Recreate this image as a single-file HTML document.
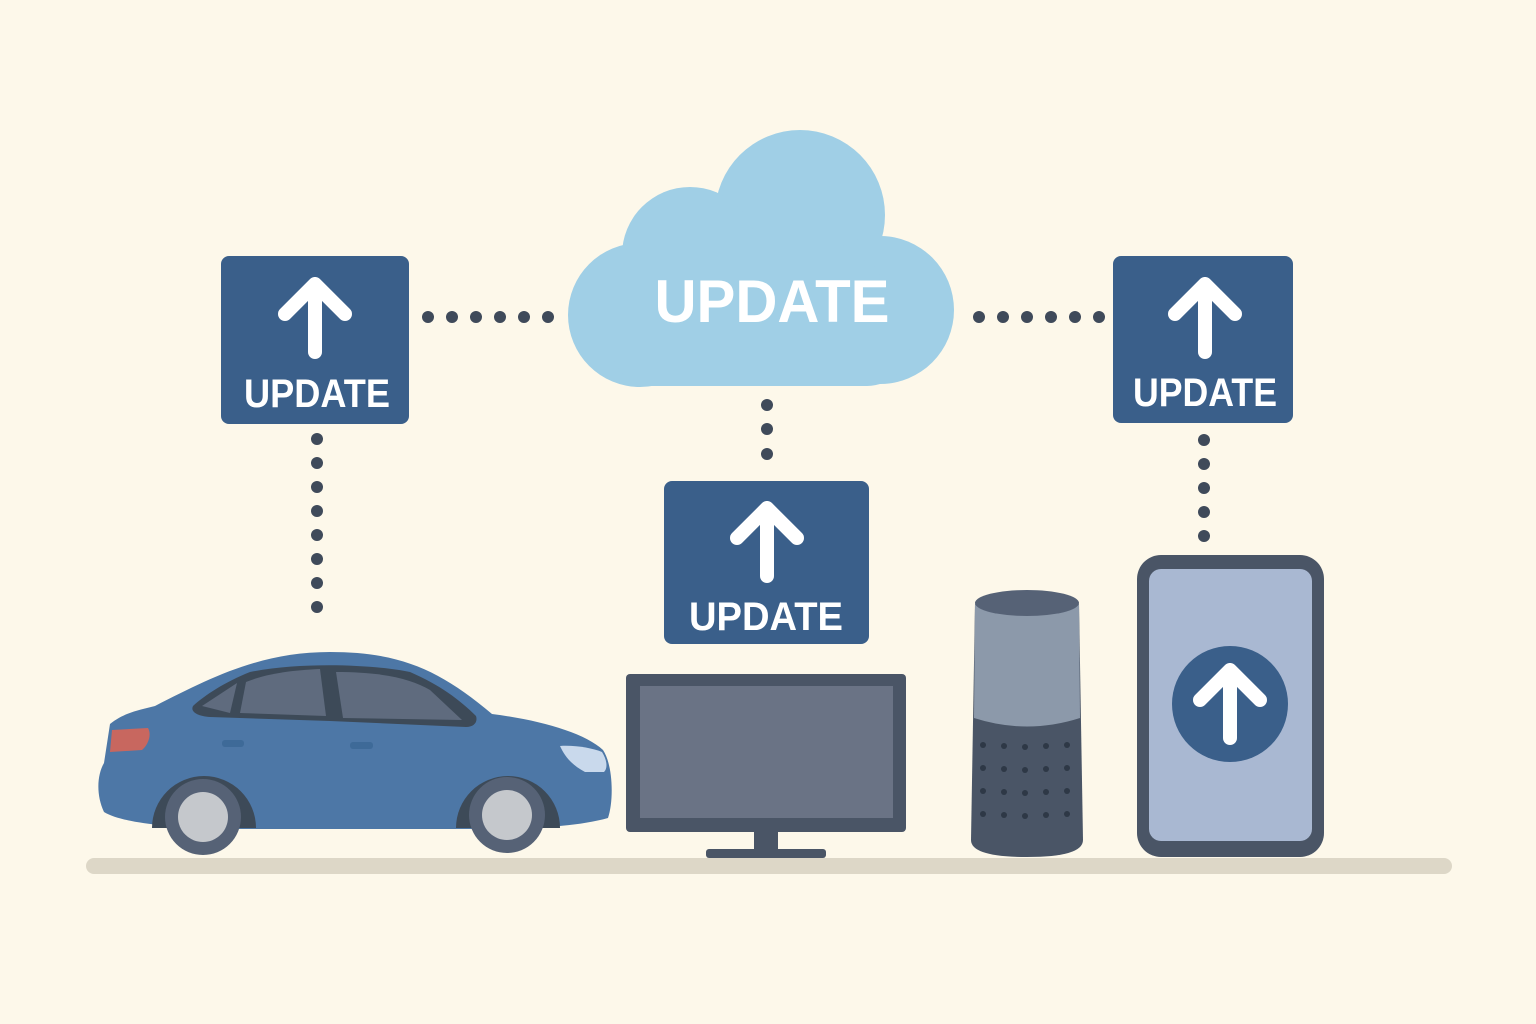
<!DOCTYPE html>
<html><head><meta charset="utf-8"><style>
html,body{margin:0;padding:0;background:#fdf8ea;}
svg{display:block}
text{font-family:"Liberation Sans",sans-serif;font-weight:bold;fill:#fff;text-anchor:middle}
</style></head><body>
<svg width="1536" height="1024" viewBox="0 0 1536 1024" xmlns="http://www.w3.org/2000/svg">
<rect width="1536" height="1024" fill="#fdf8ea"/>
<rect x="86" y="858" width="1366" height="16" rx="8" fill="#ddd7c7"/>
<g fill="#3f4a5a">
<circle cx="428" cy="317" r="6"/><circle cx="452" cy="317" r="6"/><circle cx="476" cy="317" r="6"/><circle cx="500" cy="317" r="6"/><circle cx="524" cy="317" r="6"/><circle cx="548" cy="317" r="6"/>
<circle cx="979" cy="317" r="6"/><circle cx="1003" cy="317" r="6"/><circle cx="1027" cy="317" r="6"/><circle cx="1051" cy="317" r="6"/><circle cx="1075" cy="317" r="6"/><circle cx="1099" cy="317" r="6"/>
<circle cx="317" cy="439" r="6"/><circle cx="317" cy="463" r="6"/><circle cx="317" cy="487" r="6"/><circle cx="317" cy="511" r="6"/><circle cx="317" cy="535" r="6"/><circle cx="317" cy="559" r="6"/><circle cx="317" cy="583" r="6"/><circle cx="317" cy="607" r="6"/>
<circle cx="767" cy="405" r="6"/><circle cx="767" cy="429" r="6"/><circle cx="767" cy="454" r="6"/>
<circle cx="1204" cy="440" r="6"/><circle cx="1204" cy="464" r="6"/><circle cx="1204" cy="488" r="6"/><circle cx="1204" cy="512" r="6"/><circle cx="1204" cy="536" r="6"/>
</g>
<g fill="#a0cfe6">
<circle cx="800" cy="215" r="85"/>
<circle cx="690" cy="255" r="68"/>
<circle cx="880" cy="310" r="74"/>
<circle cx="640" cy="315" r="72"/>
<rect x="640" y="260" width="240" height="126" rx="20"/>
<rect x="610" y="300" width="300" height="86" rx="43"/>
</g>
<text x="772" y="322" font-size="60" textLength="235" lengthAdjust="spacingAndGlyphs">UPDATE</text>
<defs>
<g id="arr"><path d="M0,-34 L0,34 M-30,-4 L0,-34 L30,-4" stroke="#fff" stroke-width="14" stroke-linecap="round" stroke-linejoin="round" fill="none"/></g>
</defs>
<rect x="221" y="256" width="188" height="168" rx="8" fill="#3a5f8a"/>
<use href="#arr" x="315" y="318"/>
<text x="317" y="407" font-size="40" textLength="146" lengthAdjust="spacingAndGlyphs">UPDATE</text>
<rect x="1113" y="256" width="180" height="167" rx="8" fill="#3a5f8a"/>
<use href="#arr" x="1205" y="318"/>
<text x="1205" y="406" font-size="40" textLength="144" lengthAdjust="spacingAndGlyphs">UPDATE</text>
<rect x="664" y="481" width="205" height="163" rx="8" fill="#3a5f8a"/>
<use href="#arr" x="767" y="542"/>
<text x="766" y="630" font-size="40" textLength="154" lengthAdjust="spacingAndGlyphs">UPDATE</text>
<rect x="626" y="674" width="280" height="158" rx="4" fill="#4a5566"/>
<rect x="640" y="686" width="253" height="132" fill="#6a7385"/>
<rect x="754" y="830" width="24" height="22" fill="#4a5566"/>
<rect x="706" y="849" width="120" height="9" rx="3" fill="#4a5566"/>
<path d="M975,604 L971,840 Q971,857 1027,857 Q1083,857 1083,840 L1079,604 Z" fill="#4a5566"/>
<path d="M975,604 L974,718 Q1027,735 1080,718 L1079,604 Z" fill="#8c99aa"/>
<ellipse cx="1027" cy="603" rx="52" ry="13" fill="#566276"/>
<g fill="#2e3846">
<circle cx="983" cy="745" r="3"/><circle cx="1004" cy="746" r="3"/><circle cx="1025" cy="747" r="3"/><circle cx="1046" cy="746" r="3"/><circle cx="1067" cy="745" r="3"/>
<circle cx="983" cy="768" r="3"/><circle cx="1004" cy="769" r="3"/><circle cx="1025" cy="770" r="3"/><circle cx="1046" cy="769" r="3"/><circle cx="1067" cy="768" r="3"/>
<circle cx="983" cy="791" r="3"/><circle cx="1004" cy="792" r="3"/><circle cx="1025" cy="793" r="3"/><circle cx="1046" cy="792" r="3"/><circle cx="1067" cy="791" r="3"/>
<circle cx="983" cy="814" r="3"/><circle cx="1004" cy="815" r="3"/><circle cx="1025" cy="816" r="3"/><circle cx="1046" cy="815" r="3"/><circle cx="1067" cy="814" r="3"/>
</g>
<rect x="1137" y="555" width="187" height="302" rx="24" fill="#4a5566"/>
<rect x="1149" y="569" width="163" height="272" rx="12" fill="#a9b8d2"/>
<circle cx="1230" cy="704" r="58" fill="#3a5f8a"/>
<use href="#arr" x="1230" y="704"/>
<path d="M104,812 C96,795 97,775 104,763 L110,724 C125,712 140,710 155,706 C210,678 260,652 330,652 C400,652 440,670 492,714 C540,720 585,733 603,750 C613,765 614,800 608,818 C580,826 540,828 500,829 L210,829 C160,826 120,822 104,812 Z" fill="#4d77a6"/>
<path d="M193,706 C205,695 225,682 250,672 C300,662 370,664 410,672 C440,685 460,700 476,716 C478,722 474,727 466,727 L330,721 L210,717 C198,716 190,712 193,706 Z" fill="#3d4a58"/>
<path d="M202,706 L237,683 L230,713 Z" fill="#5f6b7e"/>
<path d="M246,682 C270,672 300,670 320,669 L326,716 L240,713 Z" fill="#5f6b7e"/>
<path d="M336,672 C380,672 410,678 430,690 L462,720 L343,718 Z" fill="#5f6b7e"/>
<path d="M112,730 L148,728 C152,735 148,745 142,750 L110,752 Z" fill="#c8675f"/>
<path d="M560,746 C575,745 592,748 602,752 C607,760 608,768 604,772 L585,772 C572,765 565,757 560,746 Z" fill="#c9d9ec"/>
<rect x="222" y="740" width="22" height="7" rx="3" fill="#3e6a98"/>
<rect x="350" y="742" width="23" height="7" rx="3" fill="#3e6a98"/>
<path d="M152,828 A52,52 0 0 1 256,828 Z" fill="#3d4a58"/>
<path d="M456,828 A52,52 0 0 1 560,828 Z" fill="#3d4a58"/>
<circle cx="203" cy="817" r="38" fill="#566276"/>
<circle cx="203" cy="817" r="25" fill="#c5c8cc"/>
<circle cx="507" cy="815" r="38" fill="#566276"/>
<circle cx="507" cy="815" r="25" fill="#c5c8cc"/>
</svg>
</body></html>
